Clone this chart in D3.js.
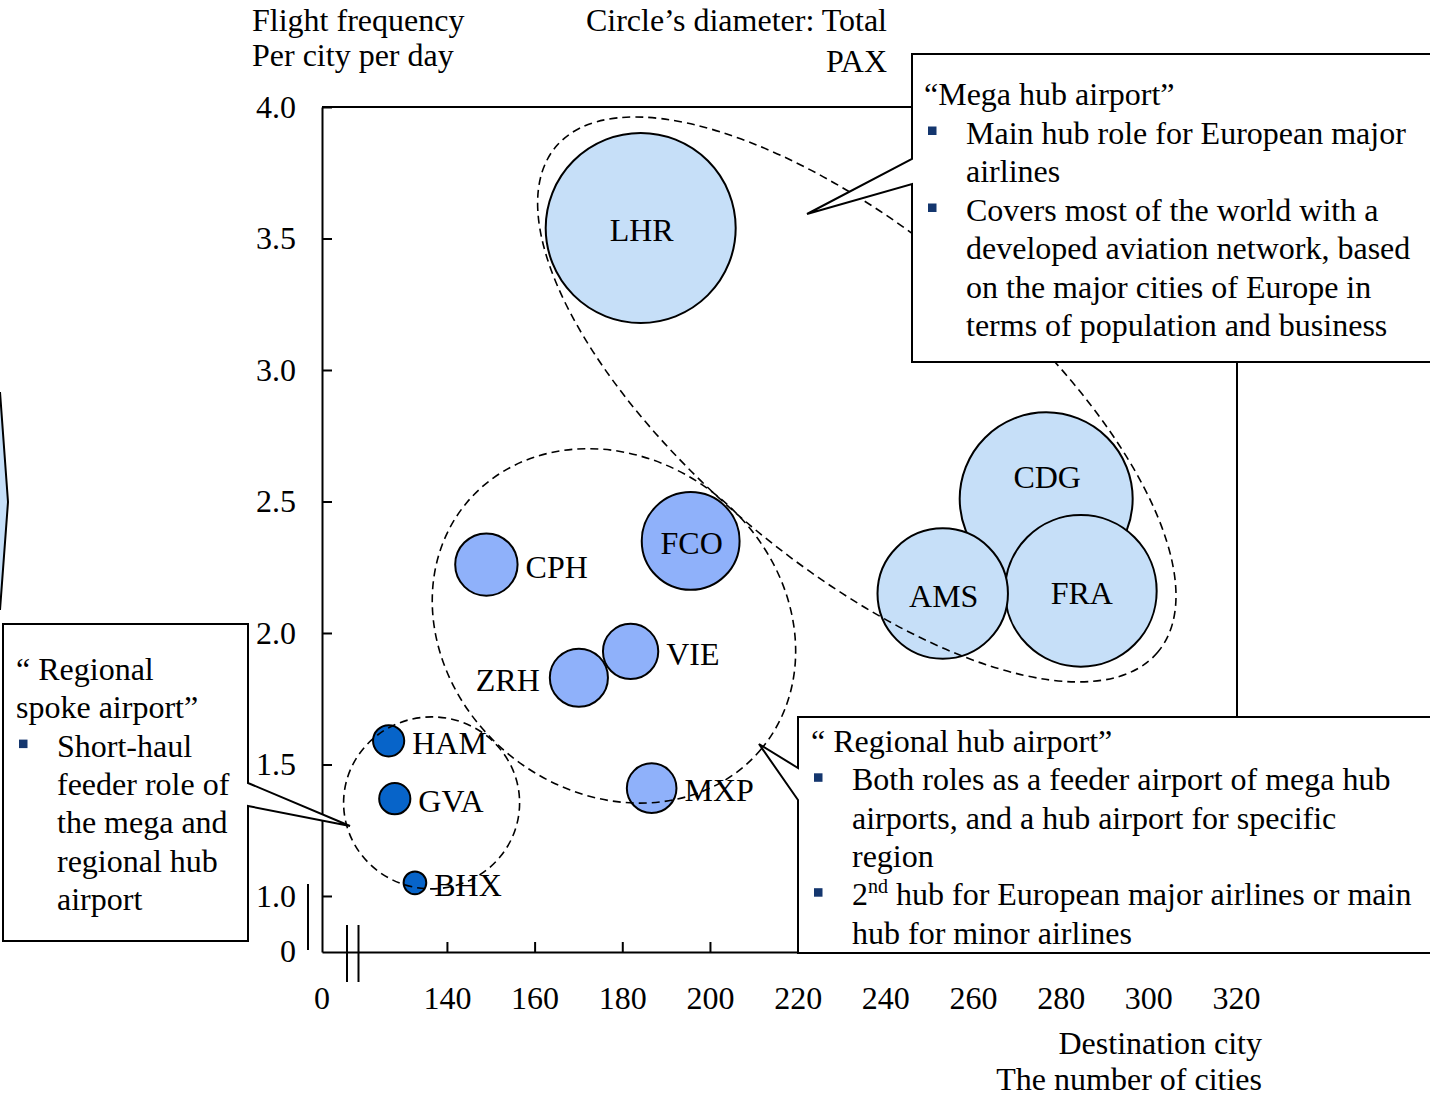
<!DOCTYPE html>
<html><head><meta charset="utf-8">
<script src="https://cdn.jsdelivr.net/npm/d3@7/dist/d3.min.js"></script>
<style>
body{margin:0;background:#fff;}
svg{display:block;font-family:"Liberation Serif","Times New Roman",serif;}
</style></head><body>
<svg id="chart" width="1430" height="1098"></svg>
<script>
// Airport data: destination cities (x), flights per city per day (y), total passengers (circle diameter, millions)
const airports     = ["LHR","CDG","FRA","AMS","FCO","CPH","ZRH","VIE","MXP","HAM","GVA","BHX"];
const destinations = [184.2, 276.7, 284.6, 253.1, 195.6, 149.0, 170.1, 181.9, 186.7, 126.7, 128.1, 132.7];
const frequency    = [3.54, 2.51, 2.16, 2.15, 2.35, 2.26, 1.83, 1.93, 1.41, 1.59, 1.37, 1.05];
const totalPax     = [67, 61, 53.5, 46, 34.5, 22, 20.5, 19.5, 17.5, 11, 11, 8];
const airportType  = ["mega","mega","mega","mega","regional","regional","regional","regional","regional","spoke","spoke","spoke"];
const labelSide    = ["c","top","c","c","c","r","l","r","r","r","r","r"];

const xTicks = [140,160,180,200,220,240,260,280,300,320];
const yTicks = [1.0,1.5,2.0,2.5,3.0,3.5,4.0];

// Group outlines (centre in data units, radii in pixels)
const groups = [
  {name:"mega",     cx:233.5, cy:2.888, rx:393, ry:165, angle:40},
  {name:"regional", cx:178.1, cy:2.027, rx:192, ry:166, angle:40},
  {name:"spoke",    cx:136.5, cy:1.354, rx:88,  ry:86,  angle:0}
];

const fills = {mega:"#c6dff8", regional:"#8fb1fa", spoke:"#0764c9"};
const FS = 32;

const svg = d3.select("#chart");
const x = d3.scaleLinear().domain([111.5, 320]).range([322, 1236]);
const y = d3.scaleLinear().domain([0.787, 4.0]).range([952, 107]);
const diam = d3.scaleLinear().domain([0, 67]).range([0, 190]);

// decorative arrow edge at far left
svg.append("path").attr("d","M-4,390 L0,392 L8,502 L0,610 L-4,612 Z")
  .attr("fill",fills.mega).attr("stroke","none");
svg.append("path").attr("d","M0,392 L8,502 L0,610")
  .attr("fill","none").attr("stroke","#000").attr("stroke-width",2);

// plot frame
svg.append("path").attr("d",`M${x.range()[0]},${y(4)}H1237V952`)
  .attr("fill","none").attr("stroke","#000").attr("stroke-width",2);

// axes
const gx = svg.append("g").attr("transform","translate(0,952)")
  .call(d3.axisBottom(x).tickValues(xTicks).tickSizeInner(-10).tickSizeOuter(0).tickPadding(34).tickFormat(d3.format("d")));
gx.append("text").attr("x", x.range()[0]).attr("y", 34).attr("dy","0.71em").attr("text-anchor","middle").text("0");
const gy = svg.append("g").attr("transform",`translate(${x.range()[0]},0)`)
  .call(d3.axisLeft(y).tickValues(yTicks).tickSizeInner(-10).tickSizeOuter(0).tickPadding(26).tickFormat(d3.format(".1f")));
gy.append("text").attr("x",-26).attr("y", y.range()[0]).attr("dy","0.32em").attr("text-anchor","end").text("0");
[gx, gy].forEach(g => {
  g.attr("font-family",null).attr("font-size",FS);
  g.selectAll("text").attr("fill","#000").attr("font-size",FS);
  g.selectAll("path,line").attr("stroke","#000").attr("stroke-width",2);
});

// axis break marks
svg.append("g").attr("stroke","#000").attr("stroke-width",2).selectAll("line")
  .data([[347,925,347,982],[358.5,925,358.5,982],[308,884,308,950]])
  .join("line").attr("x1",d=>d[0]).attr("y1",d=>d[1]).attr("x2",d=>d[2]).attr("y2",d=>d[3]);

// bubbles
const data = airports.map((a,i)=>({code:a, dx:destinations[i], fq:frequency[i], pax:totalPax[i], type:airportType[i], side:labelSide[i]}));
svg.append("g").selectAll("circle").data(data).join("circle")
  .attr("cx",d=>x(d.dx)).attr("cy",d=>y(d.fq)).attr("r",d=>diam(d.pax)/2)
  .attr("fill",d=>fills[d.type]).attr("stroke","#000").attr("stroke-width",2);

svg.append("g").attr("font-size",FS).selectAll("text").data(data).join("text")
  .attr("x",d=>{
    const r = diam(d.pax)/2, cx = x(d.dx);
    if (d.side==="r") return cx + r + 8;
    if (d.side==="l") return cx - r - 10;
    return cx + 1;
  })
  .attr("y",d=>{
    const cy = y(d.fq);
    if (d.side==="top") return cy - 22;
    return cy + 2;
  })
  .attr("dy","0.35em")
  .attr("text-anchor",d=>d.side==="r"?"start":d.side==="l"?"end":"middle")
  .text(d=>d.code);

// dashed group outlines
svg.append("g").selectAll("ellipse").data(groups).join("ellipse")
  .attr("transform",d=>`translate(${x(d.cx)},${y(d.cy)}) rotate(${d.angle})`)
  .attr("rx",d=>d.rx).attr("ry",d=>d.ry)
  .attr("fill","none").attr("stroke","#000").attr("stroke-width",1.6).attr("stroke-dasharray","8,5");

// callout boxes
const callouts = [
  {path:"M912,54 H1440 V362 H912 V184 L807,214 L912,159 Z"},
  {path:"M798,717 H1440 V953 H798 V800 L759,744 L798,768 Z"},
  {path:"M3,624 H248 V783 L350,826 L248,806 V941 H3 Z"}
];
svg.append("g").selectAll("path").data(callouts).join("path")
  .attr("d",d=>d.path).attr("fill","#fff").attr("stroke","#000").attr("stroke-width",2);

// callout text
const notes = [
  {titleX:924, textX:966, bulletX:928, y0:105, lh:38.5,
   title:["“Mega hub airport”"],
   bullets:[["Main hub role for European major","airlines"],
            ["Covers most of the world with a","developed aviation network, based","on the major cities of Europe in","terms of population and business"]]},
  {titleX:811, textX:852, bulletX:814, y0:752, lh:38.3,
   title:["“ Regional hub airport”"],
   bullets:[["Both roles as a feeder airport of mega hub","airports, and a hub airport for specific","region"],
            ["2|nd| hub for European major airlines or main","hub for minor airlines"]]},
  {titleX:16, textX:57, bulletX:19, y0:680, lh:38.3,
   title:["“ Regional","spoke airport”"],
   bullets:[["Short-haul","feeder role of","the mega and","regional hub","airport"]]}
];
const gn = svg.append("g").attr("font-size",FS).attr("fill","#000");
notes.forEach(n=>{
  let yy = n.y0;
  n.title.forEach(t=>{ gn.append("text").attr("x",n.titleX).attr("y",yy).text(t); yy += n.lh; });
  n.bullets.forEach(b=>{
    gn.append("rect").attr("x",n.bulletX).attr("y",yy-17).attr("width",8.5).attr("height",8.5).attr("fill","#14366e");
    b.forEach(line=>{
      const t = gn.append("text").attr("x",n.textX).attr("y",yy);
      if (line.includes("|")) {
        const parts = line.split("|");
        t.append("tspan").text(parts[0]);
        t.append("tspan").attr("font-size",20).attr("dy",-12).text(parts[1]);
        t.append("tspan").attr("dy",12).text(parts[2]);
      } else t.text(line);
      yy += n.lh;
    });
  });
});

// axis titles
const gt = svg.append("g").attr("font-size",FS).attr("fill","#000");
gt.append("text").attr("x",252).attr("y",31).text("Flight frequency");
gt.append("text").attr("x",252).attr("y",66).text("Per city per day");
gt.append("text").attr("x",887).attr("y",31).attr("text-anchor","end").text("Circle’s diameter: Total");
gt.append("text").attr("x",887).attr("y",72).attr("text-anchor","end").text("PAX");
gt.append("text").attr("x",1262).attr("y",1054).attr("text-anchor","end").text("Destination city");
gt.append("text").attr("x",1262).attr("y",1090).attr("text-anchor","end").text("The number of cities");
</script>
</body></html>
